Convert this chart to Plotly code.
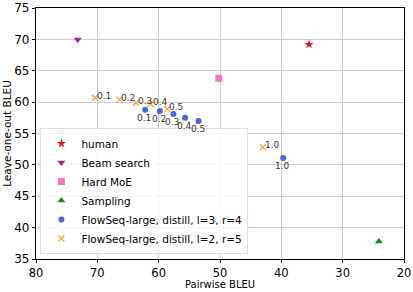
import plotly.graph_objects as go

human_x = [35.5]; human_y = [69.2]
beam_x = [73.2]; beam_y = [70.0]
moe_x = [50.2]; moe_y = [63.8]
samp_x = [24.1]; samp_y = [37.8]
f34_x = [62.2, 59.8, 57.6, 55.7, 53.5, 39.7]
f34_y = [58.8, 58.6, 58.1, 57.5, 57.0, 51.1]
f25_x = [70.4, 66.4, 63.7, 61.3, 58.6, 43.0]
f25_y = [60.7, 60.4, 59.9, 59.7, 58.9, 52.8]
temps = ["0.1", "0.2", "0.3", "0.4", "0.5", "1.0"]

font = "DejaVu Sans"
fig = go.Figure()
fig.add_trace(go.Scatter(x=human_x, y=human_y, mode="markers", name="human",
                         marker=dict(symbol="star", color="#e8141c", size=7)))
fig.add_trace(go.Scatter(x=beam_x, y=beam_y, mode="markers", name="Beam search",
                         marker=dict(symbol="triangle-down", color="#a8287a", size=7)))
fig.add_trace(go.Scatter(x=moe_x, y=moe_y, mode="markers", name="Hard MoE",
                         marker=dict(symbol="square", color="#ee78c0", size=7)))
fig.add_trace(go.Scatter(x=samp_x, y=samp_y, mode="markers", name="Sampling",
                         marker=dict(symbol="triangle-up", color="#108a10", size=7)))
fig.add_trace(go.Scatter(x=f34_x, y=f34_y, mode="markers", name="FlowSeq-large, distill, l=3, r=4",
                         marker=dict(symbol="circle", color="#4169e1", size=6)))
fig.add_trace(go.Scatter(x=f25_x, y=f25_y, mode="markers", name="FlowSeq-large, distill, l=2, r=5",
                         marker=dict(symbol="x-thin", color="#f5a540", size=6,
                                     line=dict(color="#f5a540", width=1.3))))

for x, y, t in zip(f34_x, f34_y, temps):
    fig.add_annotation(x=x, y=y, text=t, showarrow=False, xanchor="center", yanchor="top",
                       xshift=-1, yshift=-1, font=dict(size=9, color="#333", family=font))
for x, y, t in zip(f25_x, f25_y, temps):
    fig.add_annotation(x=x, y=y, text=t, showarrow=False, xanchor="left", yanchor="middle",
                       xshift=0, yshift=2, font=dict(size=9, color="#333", family=font))

fig.add_annotation(x=0.5, y=0, xref="paper", yref="paper", text="Pairwise BLEU",
                   showarrow=False, xanchor="center", yanchor="top", yshift=-18,
                   font=dict(size=10, family=font, color="black"))

fig.update_layout(
    width=413, height=292,
    margin=dict(l=36, r=9, t=8, b=33),
    paper_bgcolor="white", plot_bgcolor="white",
    font=dict(family=font, size=12, color="black"),
    showlegend=True,
    legend=dict(x=0.012, y=0.02, xanchor="left", yanchor="bottom",
                bgcolor="rgba(255,255,255,0.8)", bordercolor="#dddddd", borderwidth=1,
                font=dict(size=10.5, family=font), itemwidth=30,
                tracegroupgap=0),
)
fig.update_xaxes(range=[80, 20], tickvals=[80, 70, 60, 50, 40, 30, 20],
                 showgrid=True, gridcolor="#cccccc", gridwidth=1.2,
                 showline=True, linecolor="black", linewidth=1.2, mirror=True,
                 ticks="outside", ticklen=3, tickcolor="black", automargin=False,
                 zeroline=False, tickfont=dict(size=11.5))
fig.update_yaxes(range=[35, 75], tickvals=[35, 40, 45, 50, 55, 60, 65, 70, 75],
                 showgrid=True, gridcolor="#cccccc", gridwidth=1.2,
                 showline=True, linecolor="black", linewidth=1.2, mirror=True,
                 ticks="outside", ticklen=3, tickcolor="black", automargin=False,
                 zeroline=False, tickfont=dict(size=12),
                 title=dict(text="Leave-one-out BLEU", font=dict(size=10.5), standoff=0))

fig.write_html("out.html")
